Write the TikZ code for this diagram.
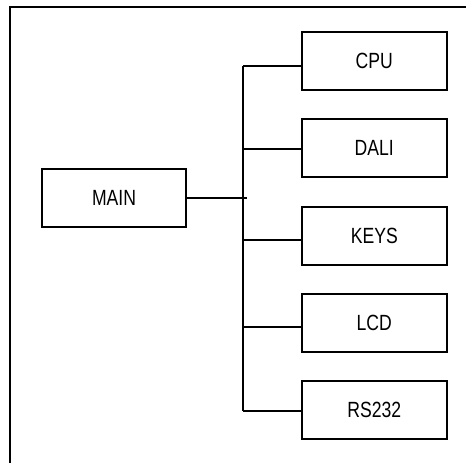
\documentclass[tikz,border=0pt]{standalone}
\usepackage{fontspec}
\setmainfont{Liberation Sans}[FakeStretch=0.8]
\usetikzlibrary{positioning}

\begin{document}
\begin{tikzpicture}[x=0.5pt,y=-0.5pt,line width=1pt,
  unit/.style={draw,minimum width=72.6pt,minimum height=29pt,inner sep=0pt,
    font=\fontsize{11}{13}\selectfont}]
\useasboundingbox (0,0) rectangle (466,463);
% outer frame, cut off at right and bottom
\draw (10,463) -- (10,7) -- (466,7);
\node[unit,minimum width=72pt] (main) at (114,198) {MAIN};
\node[unit] (cpu) at (374.3,61) {CPU};
\node[unit] (dali) at (374.3,148.3) {DALI};
\node[unit] (keys) at (374.3,235.5) {KEYS};
\node[unit] (lcd) at (374.3,322.8) {LCD};
\node[unit] (rs) at (374.3,410) {RS232};
% bus
\foreach \n/\y in {cpu/66,dali/149,keys/240,lcd/327,rs/411}
  \coordinate (b\n) at (243,\y);
\draw (bcpu) -- (brs);
\draw (main.east) -- ++(60,0);
\foreach \n in {cpu,dali,keys,lcd,rs}
  \draw (b\n) -- (b\n -| \n.west);
\end{tikzpicture}
\end{document}
